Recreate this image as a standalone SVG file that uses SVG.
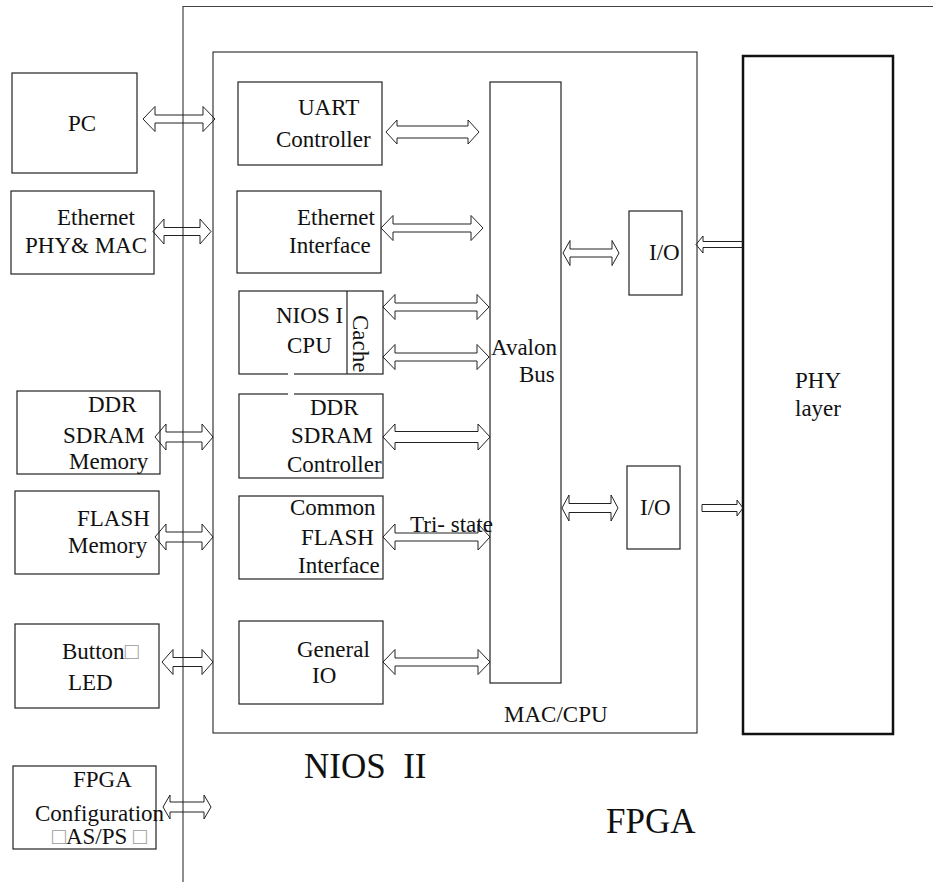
<svg xmlns="http://www.w3.org/2000/svg" width="933" height="882" viewBox="0 0 933 882">
<style>
.bx{fill:none;stroke:#222;stroke-width:1.2}
.ln{fill:none;stroke:#444;stroke-width:1.2}
.ar{fill:none;stroke:#222;stroke-width:1}
text{font-family:"Liberation Serif","DejaVu Serif","Noto Serif",serif;font-size:23px;fill:#111}
.big{font-size:35px}
.tofu{fill:#999}
</style>
<rect width="933" height="882" fill="#fff"/>
<g id="fpga">
<path class="ln" d="M183,882 V6.5 H933"/>
<text class="t big" x="606" y="833" font-family="Liberation Serif, serif">FPGA</text>
</g>
<g id="nios" font-family="Liberation Serif, serif">
<rect class="bx" x="213" y="52" width="484" height="681" style="stroke:#111;stroke-width:1"/>
<text class="t" x="504" y="722">MAC/CPU</text>
<text class="t big" x="304" y="778" xml:space="preserve">NIOS  II</text>
</g>
<g id="pc"><rect class="bx" x="12" y="73" width="125" height="100"/><text class="t" x="68" y="131">PC</text></g>
<g id="eth-phy"><rect class="bx" x="11" y="191" width="143" height="83"/><text class="t" x="57" y="225">Ethernet</text><text class="t" x="25" y="253">PHY&amp; MAC</text></g>
<g id="ddr-mem"><rect class="bx" x="17" y="391" width="143" height="83"/><text class="t" x="88" y="412">DDR</text><text class="t" x="63" y="443">SDRAM</text><text class="t" x="69" y="468.5">Memory</text></g>
<g id="flash-mem"><rect class="bx" x="15" y="491" width="144" height="83"/><text class="t" x="77" y="526">FLASH</text><text class="t" x="68" y="553">Memory</text></g>
<g id="button-led"><rect class="bx" x="15" y="624" width="144" height="84"/><text class="t" x="62" y="659">Button<tspan class="tofu">□</tspan></text><text class="t" x="68" y="690">LED</text></g>
<g id="fpga-config"><rect class="bx" x="13" y="766" width="143" height="83"/><text class="t" x="73" y="787">FPGA</text><text class="t" x="35" y="821">Configuration</text><text class="t" x="52" y="844"><tspan class="tofu">□</tspan>AS/PS <tspan class="tofu">□</tspan></text></g>
<g id="uart"><rect class="bx" x="238" y="82" width="144" height="83"/><text class="t" x="298" y="115">UART</text><text class="t" x="276" y="147">Controller</text></g>
<g id="eth-if"><rect class="bx" x="237" y="191" width="144" height="82"/><text class="t" x="297" y="225">Ethernet</text><text class="t" x="289" y="253">Interface</text></g>
<g id="cpu"><rect class="bx" x="239" y="291" width="144" height="83"/><line class="bx" x1="347" y1="291" x2="347" y2="374"/><text class="t" x="276" y="323">NIOS I</text><text class="t" x="287" y="353">CPU</text><text class="t" transform="translate(353,315) rotate(90)">Cache</text></g>
<g id="ddr-ctrl"><rect class="bx" x="239" y="394" width="144" height="84"/><text class="t" x="310" y="415">DDR</text><text class="t" x="291" y="443">SDRAM</text><text class="t" x="287" y="472">Controller</text></g>
<rect x="288" y="371" width="6" height="27" fill="#fff"/>
<g id="cfi"><rect class="bx" x="239" y="496" width="144" height="83"/><text class="t" x="290" y="515">Common</text><text class="t" x="301" y="545">FLASH</text><text class="t" x="298" y="573">Interface</text></g>
<g id="gio"><rect class="bx" x="239" y="621" width="144" height="83"/><text class="t" x="297" y="657">General</text><text class="t" x="312" y="683">IO</text></g>
<g id="avalon"><rect class="bx" x="490" y="82" width="71" height="601"/><text class="t" x="491" y="355">Avalon</text><text class="t" x="519" y="382">Bus</text></g>
<g id="io1"><rect class="bx" x="629" y="211" width="53" height="84"/><text class="t" x="649" y="260">I/O</text></g>
<g id="io2"><rect class="bx" x="627" y="466" width="53" height="83"/><text class="t" x="640" y="515">I/O</text></g>
<g id="phy"><rect x="743" y="56" width="150" height="678" fill="none" stroke="#111" stroke-width="2.5"/><text class="t" x="795" y="388">PHY</text><text class="t" x="795" y="416">layer</text></g>
<g id="connectors">
<path class="ar" d="M143,119 L155,106.5 L155,115 L203,115 L203,106.5 L215,119 L203,131.5 L203,123 L155,123 L155,131.5 Z"/>
<path class="ar" d="M153,231.5 L164,219 L164,227.5 L200,227.5 L200,219 L211,231.5 L200,244 L200,235.5 L164,235.5 L164,244 Z"/>
<path class="ar" d="M155,437 L166,424 L166,432 L202,432 L202,424 L213,437 L202,450 L202,442 L166,442 L166,450 Z"/>
<path class="ar" d="M155,537 L166,524 L166,532 L202,532 L202,524 L213,537 L202,550 L202,542 L166,542 L166,550 Z"/>
<path class="ar" d="M162,662 L173,649.5 L173,657.5 L202,657.5 L202,649.5 L213,662 L202,674.5 L202,666.5 L173,666.5 L173,674.5 Z"/>
<path class="ar" d="M163,807 L170,795 L170,802 L204,802 L204,795 L211,807 L204,819 L204,812 L170,812 L170,819 Z"/>
<path class="ar" d="M386,132 L397,120 L397,126 L468,126 L468,120 L479,132 L468,144 L468,138 L397,138 L397,144 Z"/>
<path class="ar" d="M381,228 L393,215.5 L393,224 L471,224 L471,215.5 L483,228 L471,240.5 L471,232 L393,232 L393,240.5 Z"/>
<path class="ar" d="M383,307 L395,294.5 L395,303 L477,303 L477,294.5 L489,307 L477,319.5 L477,311 L395,311 L395,319.5 Z"/>
<path class="ar" d="M383,357 L395,344.5 L395,353 L477,353 L477,344.5 L489,357 L477,369.5 L477,361 L395,361 L395,369.5 Z"/>
<path class="ar" d="M383,437 L395,424 L395,431.5 L478,431.5 L478,424 L490,437 L478,450 L478,442.5 L395,442.5 L395,450 Z"/>
<path class="ar" d="M383,537 L395,524 L395,533 L478,533 L478,524 L490,537 L478,550 L478,541 L395,541 L395,550 Z"/>
<text class="t" x="410" y="532">Tri- state</text>
<path class="ar" d="M383,662 L395,649.5 L395,658 L478,658 L478,649.5 L490,662 L478,674.5 L478,666 L395,666 L395,674.5 Z"/>
<path class="ar" d="M563,253 L570,240.5 L570,249 L612,249 L612,240.5 L619,253 L612,265.5 L612,257 L570,257 L570,265.5 Z"/>
<path class="ar" d="M562,508 L569,495 L569,503.5 L611,503.5 L611,495 L618,508 L611,521 L611,512.5 L569,512.5 L569,521 Z"/>
<path class="ar" d="M743,241.5 L703,241.5 L703,236 L696,244.5 L703,253 L703,247.5 L743,247.5"/>
<path class="ar" d="M702,504.5 L737,504.5 L737,500 L743,508 L737,516 L737,511.5 L702,511.5 Z"/>
</g>
</svg>
